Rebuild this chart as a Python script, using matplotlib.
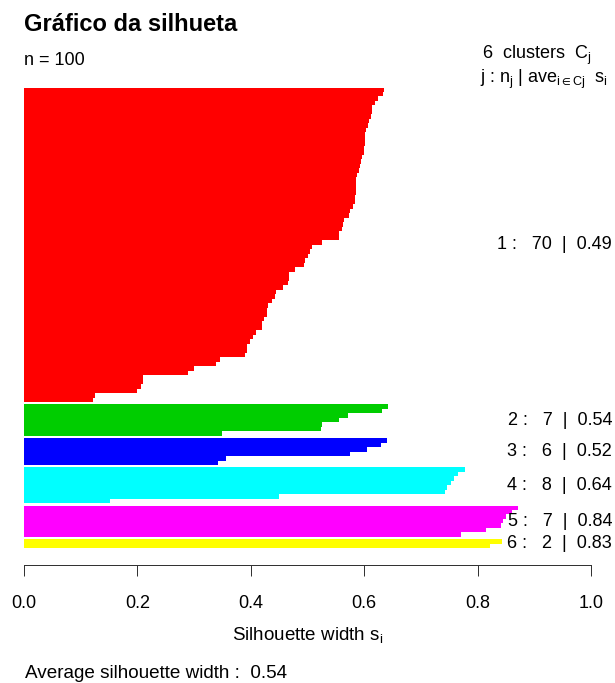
import matplotlib
matplotlib.use('Agg')
from matplotlib import pyplot as plt
from matplotlib.transforms import blended_transform_factory

plt.rcParams['font.family'] = ['Liberation Sans', 'DejaVu Sans']
plt.rcParams['mathtext.fontset'] = 'custom'
plt.rcParams['mathtext.rm'] = 'Liberation Sans'
plt.rcParams['mathtext.it'] = 'Liberation Sans'
plt.rcParams['mathtext.default'] = 'regular'

# silhouette widths per cluster, sorted (top to bottom in the plot)
sil_c1 = [0.635, 0.633, 0.625, 0.619, 0.614, 0.613, 0.612, 0.609, 0.606, 0.604,
          0.601, 0.601, 0.601, 0.599, 0.599, 0.596, 0.594, 0.592, 0.591, 0.588,
          0.586, 0.586, 0.586, 0.586, 0.584, 0.584, 0.581, 0.575, 0.573, 0.565,
          0.563, 0.560, 0.556, 0.556, 0.525, 0.508, 0.505, 0.500, 0.496, 0.494,
          0.478, 0.468, 0.468, 0.466, 0.456, 0.445, 0.442, 0.438, 0.431, 0.429,
          0.428, 0.424, 0.420, 0.420, 0.410, 0.403, 0.399, 0.394, 0.393, 0.389,
          0.345, 0.338, 0.299, 0.289, 0.210, 0.210, 0.206, 0.199, 0.126, 0.122]
sil_c2 = [0.642, 0.631, 0.571, 0.556, 0.526, 0.524, 0.349]
sil_c3 = [0.640, 0.629, 0.605, 0.575, 0.356, 0.343]
sil_c4 = [0.777, 0.766, 0.758, 0.753, 0.746, 0.742, 0.450, 0.152]
sil_c5 = [0.872, 0.861, 0.850, 0.845, 0.841, 0.814, 0.770]
sil_c6 = [0.843, 0.822]

clusters = [sil_c1, sil_c2, sil_c3, sil_c4, sil_c5, sil_c6]
cluster_avg = [0.49, 0.54, 0.52, 0.64, 0.84, 0.83]
cluster_colors = ['#FF0000', '#00CD00', '#0000FF', '#00FFFF', '#FF00FF', '#FFFF00']
avg_width = 0.54
x_ticks = [0.0, 0.2, 0.4, 0.6, 0.8, 1.0]
gap = 0.5

W, H = 615, 683


def fx(px):
    return px / W


def fy(py):
    return 1 - py / H


fig = plt.figure(figsize=(W / 100, H / 100), dpi=100)
ax = fig.add_axes([fx(24), fy(548.2), 567 / W, (548.2 - 87.5) / H])

pos = 0.0
centers = []
for vals, col in zip(clusters, cluster_colors):
    ys = [pos + i for i in range(len(vals))]
    ax.barh(ys, vals, height=1.0, align='edge', color=col, linewidth=0, antialiased=False)
    centers.append(pos + len(vals) / 2)
    pos += len(vals) + gap
total = pos - gap

ax.set_xlim(0, 1)
ax.set_ylim(total, 0)
ax.set_yticks([])
ax.set_xticks(x_ticks)
ax.set_xticklabels(['%.1f' % t for t in x_ticks])
ax.tick_params(axis='x', length=7.7, width=0.72, color='#333333', pad=13.9, labelsize=13)
for s in ['left', 'right', 'top']:
    ax.spines[s].set_visible(False)
ax.spines['bottom'].set_bounds(0, 1)
ax.spines['bottom'].set_position(('outward', 12.1))
ax.spines['bottom'].set_linewidth(0.72)
ax.spines['bottom'].set_color('#333333')

# cluster labels on the right
trans = blended_transform_factory(fig.transFigure, ax.transData)
for j, (vals, c, a) in enumerate(zip(clusters, centers, cluster_avg)):
    lab = '%d :   %d  |  %.2f' % (j + 1, len(vals), a)
    ax.text(fx(612), c, lab, transform=trans, ha='right', va='center', fontsize=13)

fig.text(fx(24), fy(31), 'Gráfico da silhueta', fontsize=17, fontweight='bold', va='baseline')
fig.text(fx(24), fy(65), 'n = 100', fontsize=13, va='baseline')
fig.text(fx(591), fy(59), r'6  clusters  $C_j$', fontsize=13, va='baseline', ha='right')
fig.text(fx(608), fy(83), r'$j$ : $n_j$ | ave$_{i\in Cj}$  $s_i$', fontsize=13, va='baseline', ha='right')
fig.text(fx(307.5), fy(640), r'Silhouette width $s_i$', fontsize=13.5, va='baseline', ha='center')
fig.text(fx(25), fy(678), 'Average silhouette width :  %.2f' % avg_width, fontsize=13.6, va='baseline')

fig.savefig('out.png', dpi=100)
